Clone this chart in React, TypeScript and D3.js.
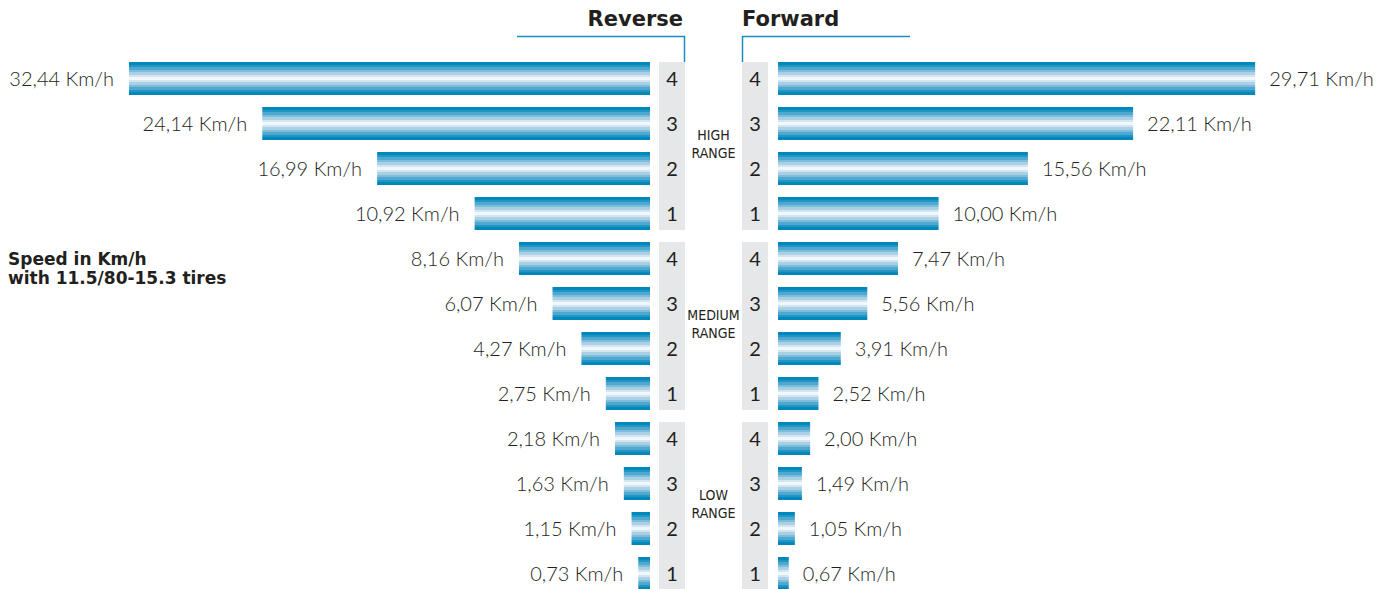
import * as d3 from "d3";
import React from "react";

const gears = ["4", "3", "2", "1", "4", "3", "2", "1", "4", "3", "2", "1"];
const ranges = [
  ["HIGH", "RANGE"],
  ["MEDIUM", "RANGE"],
  ["LOW", "RANGE"],
];
const reverse = [32.44, 24.14, 16.99, 10.92, 8.16, 6.07, 4.27, 2.75, 2.18, 1.63, 1.15, 0.73];
const forward = [29.71, 22.11, 15.56, 10.0, 7.47, 5.56, 3.91, 2.52, 2.0, 1.49, 1.05, 0.67];

// stripe colours top -> bottom of each bar
const stripes = [
  "#0088bb", "#2196c4", "#4ea8cf", "#7dbcda", "#a9d0e5", "#d2e6f1",
  "#f2f7fb", "#d2e6f1", "#a9d0e5", "#7dbcda", "#4ea8cf", "#2196c4", "#0088bb",
];

const fmt = (v: number) => v.toFixed(2).replace(".", ",") + " Km/h";

const textFont = "'Gill Sans', Lato, sans-serif";
const boldFont = "'DejaVu Sans', sans-serif";
const narrowFont = "'DejaVu Sans Condensed', 'DejaVu Sans', sans-serif";

export default function App() {
  const width = 1390;
  const height = 589;
  const leftEnd = 650;
  const rightStart = 778;
  const leftBox = 659;
  const rightBox = 742;
  const boxW = 26;

  const x = d3.scaleLinear().domain([0, 32.44]).range([0, 521]);
  const y = d3
    .scaleBand<number>()
    .domain(d3.range(gears.length))
    .range([62, 590])
    .paddingInner(12 / 45)
    .paddingOuter(0);
  const bw = y.bandwidth();

  const gradStops = stripes.flatMap((c, i) => [
    { off: i / stripes.length, c },
    { off: (i + 1) / stripes.length, c },
  ]);

  return (
    <svg width={width} height={height} style={{ position: "absolute", left: 0, top: 0 }}>
      <defs>
        <linearGradient id="stripe" x1="0" y1="0" x2="0" y2="1">
          {gradStops.map((s, i) => (
            <stop key={i} offset={s.off} stopColor={s.c} />
          ))}
        </linearGradient>
      </defs>

      {/* headers */}
      <text x={683} y={26} textAnchor="end" fontFamily={boldFont} fontWeight="bold" fontSize={21} fill="#231f20">
        Reverse
      </text>
      <text x={742} y={26} fontFamily={boldFont} fontWeight="bold" fontSize={21} fill="#231f20">
        Forward
      </text>
      <path d="M517,36.5H684.5V62" fill="none" stroke="#1a8ec1" strokeWidth={1.5} />
      <path d="M910,36.5H742.5V62" fill="none" stroke="#1a8ec1" strokeWidth={1.5} />

      {/* side note */}
      <text fontFamily={boldFont} fontWeight="bold" fontSize={17} fill="#231f20">
        <tspan x={8} y={265}>Speed in Km/h</tspan>
        <tspan x={8} y={284}>with 11.5/80-15.3 tires</tspan>
      </text>

      {/* grey gear boxes & range labels */}
      {ranges.map((r, gi) => {
        const top = y(gi * 4)!;
        const bottom = y(gi * 4 + 3)! + bw;
        const mid = (top + bottom) / 2;
        return (
          <g key={gi}>
            <rect x={leftBox} y={top} width={boxW} height={bottom - top} fill="#e6e7e8" />
            <rect x={rightBox} y={top} width={boxW} height={bottom - top} fill="#e6e7e8" />
            <text textAnchor="middle" fontFamily={narrowFont} fontStretch="condensed" fontSize={14} fill="#231f20">
              <tspan x={713.5} y={mid - 6}>{r[0]}</tspan>
              <tspan x={713.5} y={mid + 12}>{r[1]}</tspan>
            </text>
          </g>
        );
      })}

      {/* bars */}
      {gears.map((g, i) => {
        const top = y(i)!;
        const cy = top + bw / 2;
        const wl = x(reverse[i]);
        const wr = x(forward[i]);
        return (
          <g key={i}>
            <rect x={leftEnd - wl} y={top} width={wl} height={bw} fill="url(#stripe)" />
            <rect x={rightStart} y={top} width={wr} height={bw} fill="url(#stripe)" />
            <text x={leftBox + boxW / 2} y={cy + 7} textAnchor="middle" fontFamily={textFont} fontSize={20} fill="#231f20">
              {g}
            </text>
            <text x={rightBox + boxW / 2} y={cy + 7} textAnchor="middle" fontFamily={textFont} fontSize={20} fill="#231f20">
              {g}
            </text>
            <text x={leftEnd - wl - 15} y={cy + 7} textAnchor="end" fontFamily={textFont} fontWeight={300} fontSize={20} fill="#231f20">
              {fmt(reverse[i])}
            </text>
            <text x={rightStart + wr + 14} y={cy + 7} fontFamily={textFont} fontWeight={300} fontSize={20} fill="#231f20">
              {fmt(forward[i])}
            </text>
          </g>
        );
      })}
    </svg>
  );
}
